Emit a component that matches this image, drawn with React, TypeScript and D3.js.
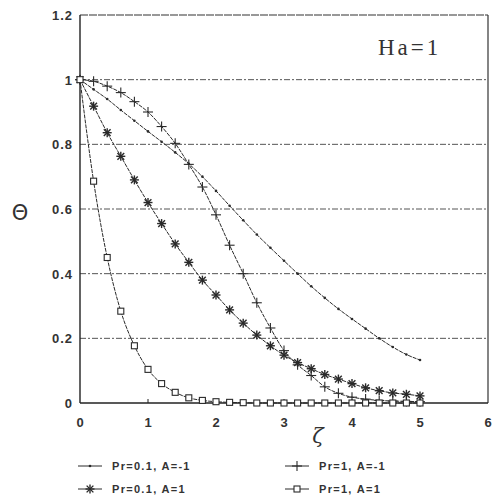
import React from "react";
import * as d3 from "d3";

// xi positions shared by every curve (step 0.2)
const xs = [0, 0.2, 0.4, 0.6, 0.8, 1, 1.2, 1.4, 1.6, 1.8, 2, 2.2, 2.4, 2.6, 2.8, 3, 3.2, 3.4, 3.6, 3.8, 4, 4.2, 4.4, 4.6, 4.8, 5];

// Pr=0.1, A=-1
const pr01Aneg = [1, 0.97, 0.94, 0.906, 0.873, 0.84, 0.808, 0.775, 0.74, 0.7, 0.656, 0.61, 0.565, 0.521, 0.48, 0.44, 0.4, 0.361, 0.325, 0.291, 0.26, 0.23, 0.2, 0.173, 0.15, 0.133];
// Pr=0.1, A=1
const pr01Apos = [1, 0.918, 0.836, 0.763, 0.69, 0.62, 0.555, 0.492, 0.435, 0.38, 0.334, 0.288, 0.247, 0.21, 0.177, 0.148, 0.125, 0.106, 0.088, 0.074, 0.06, 0.047, 0.038, 0.031, 0.027, 0.022];
// Pr=1, A=-1
const pr1Aneg = [1, 0.995, 0.98, 0.96, 0.932, 0.9, 0.855, 0.803, 0.738, 0.668, 0.582, 0.488, 0.4, 0.31, 0.232, 0.162, 0.118, 0.085, 0.05, 0.03, 0.018, 0.012, 0.008, 0.006, 0.005, 0.004];
// Pr=1, A=1
const pr1Apos = [1, 0.686, 0.45, 0.284, 0.177, 0.104, 0.06, 0.033, 0.016, 0.008, 0.004, 0.002, 0.001, 0, 0, 0, 0, 0, 0, 0, 0, 0, 0, 0, 0, 0];

const yTicks = [0, 0.2, 0.4, 0.6, 0.8, 1, 1.2];
const xTicks = [0, 1, 2, 3, 4, 5, 6];
const legendLabels = ["Pr=0.1, A=-1", "Pr=0.1, A=1", "Pr=1, A=-1", "Pr=1, A=1"];

const W = 492;
const H = 503;
const ink = "#2a2a2a";

type MarkerKind = "dot" | "star" | "plus" | "square";

function Marker({ kind, x, y }: { kind: MarkerKind; x: number; y: number }) {
  if (kind === "dot") return <circle cx={x} cy={y} r={1.3} fill={ink} />;
  if (kind === "square")
    return <rect x={x - 3} y={y - 3} width={6} height={6} fill="white" stroke={ink} strokeWidth={1.1} />;
  if (kind === "plus")
    return (
      <g stroke={ink} strokeWidth={1.1}>
        <line x1={x - 5} y1={y} x2={x + 5} y2={y} />
        <line x1={x} y1={y - 5} x2={x} y2={y + 5} />
      </g>
    );
  // asterisk
  const r = 4.5;
  return (
    <g stroke={ink} strokeWidth={1.4}>
      <line x1={x} y1={y - r} x2={x} y2={y + r} />
      <line x1={x - r} y1={y} x2={x + r} y2={y} />
      <line x1={x - r * 0.75} y1={y - r * 0.75} x2={x + r * 0.75} y2={y + r * 0.75} />
      <line x1={x - r * 0.75} y1={y + r * 0.75} x2={x + r * 0.75} y2={y - r * 0.75} />
    </g>
  );
}

export default function App() {
  const x = d3.scaleLinear().domain([0, 6]).range([80, 488]);
  const y = d3.scaleLinear().domain([0, 1.2]).range([403, 15]);

  const line = d3
    .line<number>()
    .x((_, i) => x(xs[i]))
    .y((d) => y(d))
    .curve(d3.curveMonotoneX);

  const series: { vals: number[]; kind: MarkerKind }[] = [
    { vals: pr01Aneg, kind: "dot" },
    { vals: pr01Apos, kind: "star" },
    { vals: pr1Aneg, kind: "plus" },
    { vals: pr1Apos, kind: "square" },
  ];

  const tickFont = { fontFamily: "Liberation Sans, Arial, sans-serif", fontWeight: 700, fontSize: 13, fill: "#333" };

  // legend layout: two columns, two rows
  const legendPos = [
    { lx: 78, ty: 470 },
    { lx: 78, ty: 493 },
    { lx: 285, ty: 470 },
    { lx: 285, ty: 493 },
  ];

  return (
    <svg width={W} height={H} style={{ position: "absolute", left: 0, top: 0, background: "white" }}>
      {/* horizontal grid */}
      {yTicks.slice(1, 6).map((t) => (
        <line key={t} x1={x(0)} x2={x(6)} y1={y(t)} y2={y(t)} stroke="#555" strokeWidth={1} strokeDasharray="6,2,2,2" />
      ))}
      {/* frame */}
      <line x1={x(0)} x2={x(6)} y1={y(1.2)} y2={y(1.2)} stroke="#333" strokeWidth={1.2} strokeDasharray="8,1" />
      <line x1={x(6)} x2={x(6)} y1={y(1.2)} y2={y(0)} stroke="#333" strokeWidth={1.2} />
      <line x1={x(0)} x2={x(0)} y1={y(1.2)} y2={y(0)} stroke="#222" strokeWidth={1.4} />
      <line x1={x(0)} x2={x(6)} y1={y(0)} y2={y(0)} stroke="#222" strokeWidth={1.4} />
      {xTicks.slice(1, 6).map((t) => (
        <line key={t} x1={x(t)} x2={x(t)} y1={y(0)} y2={y(0) - 4} stroke="#222" strokeWidth={1} />
      ))}

      {/* tick labels */}
      {yTicks.map((t) => (
        <text key={t} x={x(0) - 7} y={y(t) + 5} textAnchor="end" letterSpacing={1} {...tickFont}>
          {t === 0 || t === 1 ? String(t) : t.toFixed(1)}
        </text>
      ))}
      {xTicks.map((t) => (
        <text key={t} x={x(t)} y={y(0) + 24} textAnchor="middle" {...tickFont}>
          {t}
        </text>
      ))}

      {/* axis titles */}
      <text x={20} y={220} textAnchor="middle" fontFamily="DejaVu Sans, sans-serif" fontSize={21} fill="#333">
        Θ
      </text>
      <text x={318} y={443} textAnchor="middle" fontFamily="DejaVu Serif, serif" fontSize={21} fontStyle="italic" fill="#333">
        ζ
      </text>
      <text x={378} y={55} fontFamily="Liberation Serif, serif" fontSize={23} letterSpacing={3} fill="#333">
        Ha=1
      </text>

      {/* curves */}
      {series.map((s, si) => (
        <g key={si}>
          <path d={line(s.vals) ?? ""} fill="none" stroke={ink} strokeWidth={1} strokeDasharray="4,1" />
          {s.vals.map((v, i) => (
            <Marker key={i} kind={s.kind} x={x(xs[i])} y={y(v)} />
          ))}
        </g>
      ))}

      {/* legend */}
      {legendLabels.map((lab, i) => {
        const p = legendPos[i];
        return (
          <g key={lab}>
            <line x1={p.lx} x2={p.lx + 24} y1={p.ty - 4} y2={p.ty - 4} stroke={ink} strokeWidth={1} />
            <Marker kind={series[i].kind} x={p.lx + 12} y={p.ty - 4} />
            <text
              x={p.lx + 34}
              y={p.ty}
              fontFamily="Liberation Sans, Arial, sans-serif"
              fontWeight={700}
              fontSize={11}
              letterSpacing={1.3}
              fill="#333"
            >
              {lab}
            </text>
          </g>
        );
      })}
    </svg>
  );
}
